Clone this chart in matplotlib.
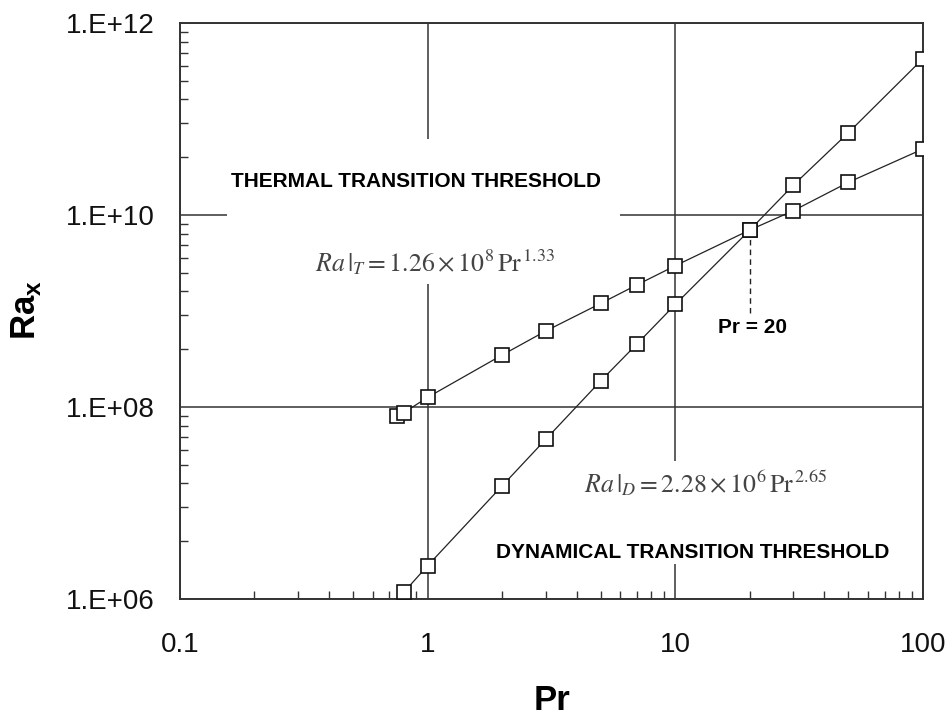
import matplotlib
matplotlib.use('Agg')
import matplotlib.pyplot as plt
from matplotlib.patches import Rectangle
from matplotlib.ticker import FixedLocator, NullFormatter

plt.rcParams['font.family'] = ['Liberation Sans', 'DejaVu Sans']
plt.rcParams['mathtext.fontset'] = 'custom'
plt.rcParams['mathtext.rm'] = 'Liberation Sans'
plt.rcParams['mathtext.bf'] = 'Liberation Sans:bold'

# ---- data ----
pr_thermal = [0.75, 0.8, 1, 2, 3, 5, 7, 10, 20, 30, 50, 100]
ra_thermal = [8.1e7, 8.7e7, 1.26e8, 3.48e8, 6.19e8, 1.20e9, 1.87e9, 2.96e9,
              6.98e9, 1.11e10, 2.19e10, 4.87e10]

pr_dynamic = [0.8, 1, 2, 3, 5, 7, 10, 20, 30, 50, 100]
ra_dynamic = [1.17e6, 2.22e6, 1.51e7, 4.61e7, 1.87e8, 4.53e8, 1.17e9,
              6.98e9, 2.05e10, 7.2e10, 4.25e11]

y_ticks = [1e6, 1e8, 1e10, 1e12]
y_tick_labels = ['1.E+06', '1.E+08', '1.E+10', '1.E+12']
x_ticks = [0.1, 1, 10, 100]
x_tick_labels = ['0.1', '1', '10', '100']

dark = '#333333'

fig = plt.figure(figsize=(9.52, 7.16), dpi=100)
ax = fig.add_axes([0.189, 0.1634, 0.7805, 0.8045])
ax.set_xscale('log')
ax.set_yscale('log')
ax.set_xlim(0.1, 100)
ax.set_ylim(1e6, 1e12)

# grid on decades, below everything
ax.set_axisbelow(True)
ax.xaxis.set_major_locator(FixedLocator(x_ticks))
ax.yaxis.set_major_locator(FixedLocator(y_ticks))
ax.set_xticklabels(x_tick_labels)
ax.set_yticklabels(y_tick_labels)
x_minor = [k * 10.0 ** e for e in (-1, 0, 1) for k in range(2, 10)]
y_minor = [k * k * 10.0 ** e for e in (6, 8, 10) for k in range(2, 10)]
ax.xaxis.set_minor_locator(FixedLocator(x_minor))
ax.yaxis.set_minor_locator(FixedLocator(y_minor))
ax.xaxis.set_minor_formatter(NullFormatter())
ax.yaxis.set_minor_formatter(NullFormatter())

ax.grid(True, which='major', color=dark, linewidth=1.1)
ax.grid(False, which='minor')
ax.tick_params(which='major', length=0, labelsize=20, colors='#111111')
ax.tick_params(which='minor', direction='in', length=6, width=1.0, color=dark)
ax.tick_params(axis='y', pad=18)
ax.tick_params(axis='x', pad=24)
for s in ax.spines.values():
    s.set_color(dark)
    s.set_linewidth(1.4)

# white boxes that break the grid lines behind the labels
ax.add_patch(Rectangle((0.063, 0.547), 0.529, 0.252, transform=ax.transAxes,
                       facecolor='white', edgecolor='none', zorder=1))
ax.add_patch(Rectangle((0.43, 0.061), 0.53, 0.179, transform=ax.transAxes,
                       facecolor='white', edgecolor='none', zorder=1))

# series
ax.plot(pr_thermal, ra_thermal, color='#222222', linewidth=0.9,
        marker='s', markersize=10, markerfacecolor='white',
        markeredgecolor='#111111', markeredgewidth=1.2, zorder=3)
ax.plot(pr_dynamic, ra_dynamic, color='#222222', linewidth=0.9,
        marker='s', markersize=10, markerfacecolor='white',
        markeredgecolor='#111111', markeredgewidth=1.2, zorder=3)

# Pr = 20 marker line
ax.vlines(20, 9.5e8, 6.3e9, colors='#222222', linewidth=1.0,
          linestyles=(0, (4, 3)), zorder=2)
ax.text(0.770, 0.472, 'Pr = 20', transform=ax.transAxes, ha='center',
        va='center', fontsize=15, fontweight='bold', zorder=4)

ax.text(0.318, 0.724, 'THERMAL TRANSITION THRESHOLD', transform=ax.transAxes,
        ha='center', va='center', fontsize=15, fontweight='bold', zorder=4)
ax.text(0.690, 0.0816, 'DYNAMICAL TRANSITION THRESHOLD', transform=ax.transAxes,
        ha='center', va='center', fontsize=15, fontweight='bold', zorder=4)

ax.text(0.343, 0.585, r'$Ra\,|_{T} = 1.26\times10^{8}\,\mathrm{Pr}^{\,1.33}$',
        transform=ax.transAxes, ha='center', va='center', fontsize=18.5,
        color='#444444', math_fontfamily='stix', zorder=4)
ax.text(0.707, 0.201, r'$Ra\,|_{D} = 2.28\times10^{6}\,\mathrm{Pr}^{\,2.65}$',
        transform=ax.transAxes, ha='center', va='center', fontsize=18.5,
        color='#444444', math_fontfamily='stix', zorder=4)

fig.text(552 / 952, 1 - 700 / 716, 'Pr', ha='center', va='center',
         fontsize=25, fontweight='bold')
fig.text(26 / 952, 1 - 310 / 716, r'Ra$_\mathbf{x}$', ha='center', va='center',
         rotation=90, fontsize=25, fontweight='bold')

fig.savefig('out.png', dpi=100)
